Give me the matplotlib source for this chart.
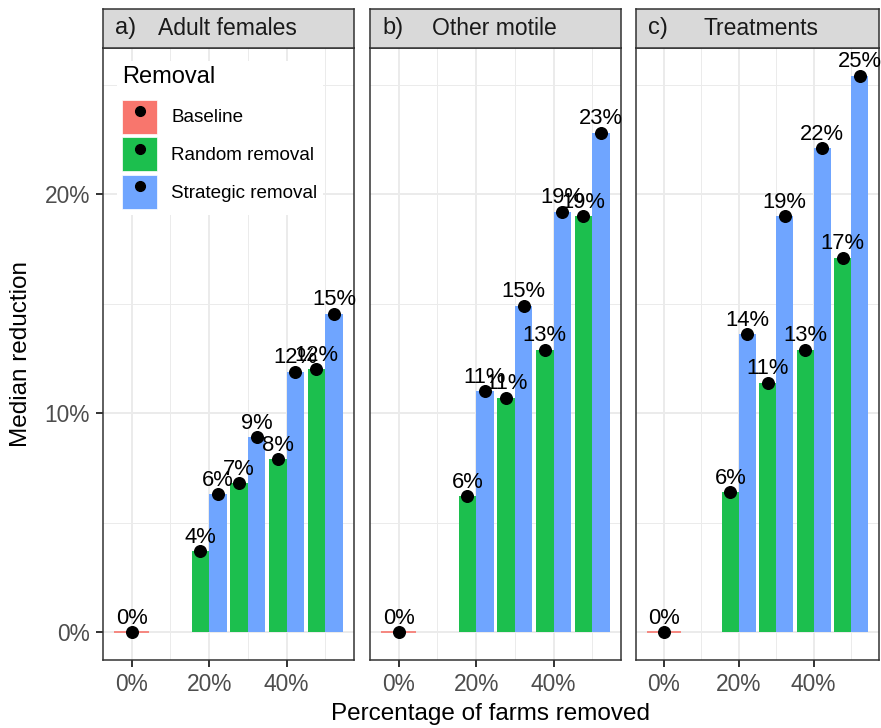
import numpy as np
import matplotlib
matplotlib.use("Agg")
from matplotlib import pyplot as plt
from matplotlib.patches import Patch
from matplotlib.lines import Line2D
from matplotlib.legend_handler import HandlerTuple

plt.rcParams['font.family'] = ['Liberation Sans', 'DejaVu Sans']

# data (percent)
panel_tags = ["a)", "b)", "c)"]
panel_titles = ["Adult females", "Other motile", "Treatments"]
removed = [20, 30, 40, 50]
baseline = [0.0, 0.0, 0.0]
random_removal = [
    [3.7, 6.8, 7.9, 12.0],
    [6.2, 10.7, 12.9, 19.0],
    [6.4, 11.4, 12.9, 17.1],
]
strategic_removal = [
    [6.3, 8.9, 11.9, 14.55],
    [11.0, 14.9, 19.2, 22.8],
    [13.6, 19.0, 22.1, 25.4],
]
groups = ["Baseline", "Random removal", "Strategic removal"]
colors = ["#F8766D", "#1CBF4E", "#6FA5FF"]

fig = plt.figure(figsize=(8.81, 7.28), dpi=100)

W, H = 881, 728
lefts = [103, 370, 636]
title_off = [55, 62, 67]
pw = 251
bottom_px, top_px = 660, 47.7
strip_top = 9

ymax = 25.42
yl = (-0.05 * ymax, 1.05 * ymax)
xl = (-4.5 - 0.05 * 59, 54.5 + 0.05 * 59)

def fmt(v):
    return "%d%%" % int(np.floor(v + 0.5))

def label(ax, x, v):
    ax.annotate(fmt(v), (x, v), xytext=(0, 2.5), textcoords='offset points',
                ha='center', va='bottom', fontsize=15.8, zorder=5)

for i in range(3):
    w = pw if i < 2 else 879 - lefts[i]
    ax = fig.add_axes([lefts[i] / W, (H - bottom_px) / H, w / W, (bottom_px - top_px) / H])
    ax.set_xlim(*xl)
    ax.set_ylim(*yl)
    ax.set_xticks([0, 20, 40])
    ax.set_xticks([10, 30, 50], minor=True)
    ax.set_yticks([0, 10, 20])
    ax.set_yticks([5, 15, 25], minor=True)
    ax.grid(True, which='major', color='#EBEBEB', lw=1.4, zorder=0)
    ax.grid(True, which='minor', color='#EBEBEB', lw=0.7, zorder=0)
    ax.set_axisbelow(True)
    ax.set_xticklabels([fmt(v) for v in [0, 20, 40]])
    if i == 0:
        ax.set_yticklabels([fmt(v) for v in [0, 10, 20]])
    else:
        ax.set_yticklabels([])
    ax.tick_params(which='minor', length=0)
    ax.tick_params(which='major', length=4.8, width=1.4, color='#333333',
                   labelsize=16.4, labelcolor='#4D4D4D', pad=4.5)
    if i > 0:
        ax.tick_params(axis='y', length=0)
    for s in ax.spines.values():
        s.set_color('#333333')
        s.set_linewidth(1.1)

    # baseline
    ax.bar([0], [baseline[i]], width=9, color=colors[0], edgecolor=colors[0], lw=1.2, zorder=2)
    ax.scatter([0], [baseline[i]], s=70, color='black', zorder=4)
    label(ax, 0, baseline[i])

    xr = np.array(removed) - 2.25
    xs = np.array(removed) + 2.25
    ax.bar(xr, random_removal[i], width=4.5, color=colors[1], zorder=2)
    ax.bar(xs, strategic_removal[i], width=4.5, color=colors[2], zorder=2)
    ax.scatter(xr, random_removal[i], s=70, color='black', zorder=4)
    ax.scatter(xs, strategic_removal[i], s=70, color='black', zorder=4)
    for x, v in zip(xr, random_removal[i]):
        label(ax, x, v)
    for x, v in zip(xs, strategic_removal[i]):
        label(ax, x, v)

    # strip
    sax = fig.add_axes([lefts[i] / W, (H - top_px) / H, w / W, (top_px - strip_top) / H])
    sax.set_facecolor('#D9D9D9')
    sax.set_xticks([])
    sax.set_yticks([])
    for s in sax.spines.values():
        s.set_color('#333333')
        s.set_linewidth(1.1)
    sax.text(12 / w, 0.52, panel_tags[i], transform=sax.transAxes, ha='left', va='center',
             fontsize=17, color='#1A1A1A')
    sax.text(title_off[i] / w, 0.5, panel_titles[i], transform=sax.transAxes, ha='left',
             va='center', fontsize=16.5, color='#1A1A1A')

    if i == 0:
        handles = []
        for c in colors:
            handles.append((Patch(facecolor=c, edgecolor='white', lw=0.5),
                            Line2D([], [], marker='o', color='black', ls='none', markersize=7)))
        leg = ax.legend(handles, groups, title="Removal", loc='upper left',
                        bbox_to_anchor=(0.017, 0.994), frameon=True, fancybox=False,
                        edgecolor='none', facecolor='white', framealpha=1,
                        fontsize=13.6, title_fontsize=17, handlelength=1.85, handleheight=2.39,
                        labelspacing=0.2, handletextpad=0.74, borderpad=0.3,
                        handler_map={tuple: HandlerTuple(ndivide=1)})
        leg._legend_box.align = 'left'
        leg._legend_box.sep = 8
        leg.set_zorder(6)

fig.text(491 / W, 1 - 714 / H, "Percentage of farms removed", ha='center', va='center', fontsize=17.5)
fig.text(21 / W, 1 - 354 / H, "Median reduction", ha='center', va='center', rotation=90, fontsize=17.5)

fig.savefig("out.png", dpi=100)
